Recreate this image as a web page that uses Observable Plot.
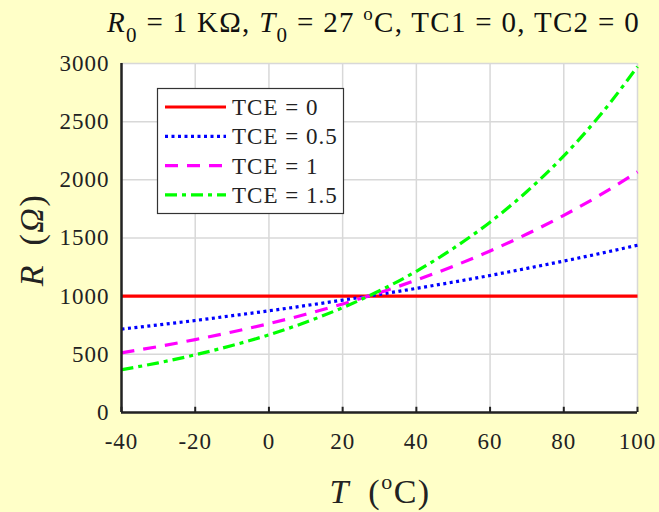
<!DOCTYPE html>
<html>
<head>
<meta charset="utf-8">
<script src="https://cdn.jsdelivr.net/npm/d3@7"></script>
<script src="https://cdn.jsdelivr.net/npm/@observablehq/plot@0.6"></script>
<style>
  html, body { margin: 0; padding: 0; background: #ffffc8; }
  #wrap { position: relative; width: 659px; height: 512px; overflow: hidden; background: #ffffc8; }
  #title { position: absolute; left: 107px; top: 6px; white-space: nowrap; letter-spacing: 1.3px;
           font-family: "Liberation Serif", serif; font-size: 29px; color: #111; z-index: 2; }
  #title sub { font-size: 21px; vertical-align: -10px; line-height: 0; }
  #title sup { font-size: 19px; vertical-align: 12px; line-height: 0; }
  svg { position: absolute; left: 0; top: 0; }
</style>
</head>
<body>
<div id="wrap">
  <div id="title"><i>R</i><sub>0</sub> = 1 KΩ, <i>T</i><sub>0</sub> = 27 <sup>o</sup>C, TC1 = 0, TC2 = 0</div>
</div>
<script>
// Temperature (°C)
const temps = [-40, -30, -20, -10, 0, 10, 20, 30, 40, 50, 60, 70, 80, 90, 100];
// Resistance (Ω) for each TCE value
const tce0   = [1000, 1000, 1000, 1000, 1000, 1000, 1000, 1000, 1000, 1000, 1000, 1000, 1000, 1000, 1000];
const tce05  = [717, 753, 791, 832, 874, 919, 966, 1015, 1067, 1121, 1178, 1239, 1302, 1368, 1438];
const tce1   = [513, 567, 627, 692, 764, 844, 933, 1030, 1138, 1257, 1389, 1534, 1695, 1872, 2068];
const tce15  = [368, 427, 496, 576, 668, 776, 901, 1046, 1214, 1410, 1636, 1900, 2206, 2561, 2973];
const seriesNames = ["TCE = 0", "TCE = 0.5", "TCE = 1", "TCE = 1.5"];
const xTicks = [-40, -20, 0, 20, 40, 60, 80, 100];
const yTicks = [0, 500, 1000, 1500, 2000, 2500, 3000];

const colors = ["#ff0000", "#0000ff", "#ff00ff", "#00ff00"];
const dashes = [null, "3,3.5", "13,9", "12,5,4,5"];

const allSeries = [tce0, tce05, tce1, tce15];
const data = [];
allSeries.forEach((vals, s) => temps.forEach((t, i) => data.push({T: t, R: vals[i], s: seriesNames[s]})));

const lineMarks = seriesNames.map((name, s) =>
  Plot.line(data.filter(d => d.s === name), {
    x: "T", y: "R", stroke: colors[s], strokeWidth: 3.2,
    strokeDasharray: dashes[s], curve: "monotone-x", strokeLinecap: "butt"
  })
);

const chart = Plot.plot({
  width: 659, height: 512,
  marginLeft: 121, marginRight: 22, marginTop: 63, marginBottom: 100,
  style: { background: "transparent", fontFamily: "Liberation Serif, serif", color: "#222", letterSpacing: "1px" },
  x: { domain: [-40, 100] },
  y: { domain: [0, 3000] },
  marks: [
    Plot.frame({ fill: "white", stroke: null }),
    Plot.gridX(xTicks, { stroke: "#d8d8d8", strokeOpacity: 1, strokeWidth: 1.5 }),
    Plot.gridY(yTicks, { stroke: "#d8d8d8", strokeOpacity: 1, strokeWidth: 1.5 }),
    Plot.axisX(xTicks, { tickSize: 0, tickPadding: 20, fontSize: 23, label: null, tickFormat: d => String(d) }),
    Plot.axisY(yTicks, { tickSize: 0, tickPadding: 12, fontSize: 23, label: null, tickFormat: d => String(d) }),
    Plot.ruleX(xTicks, { y1: 0, y2: 45, stroke: "#222", strokeWidth: 2 }),
    ...lineMarks,
    Plot.ruleY([0], { stroke: "#222", strokeWidth: 2.5 }),
    Plot.ruleX([-40], { stroke: "#222", strokeWidth: 2.5 })
  ]
});

document.getElementById("wrap").appendChild(chart);

const svg = d3.select(chart);
const serif = "Liberation Serif, serif";

// Axis labels
const xl = svg.append("text").attr("x", 380).attr("y", 503).attr("text-anchor", "middle")
  .attr("font-family", serif).attr("font-size", 34).attr("letter-spacing", "1.5px").attr("fill", "#222");
xl.append("tspan").attr("font-style", "italic").text("T");
xl.append("tspan").text("\u2002(");
xl.append("tspan").attr("font-size", 22).attr("dy", -14).text("o");
xl.append("tspan").attr("dy", 14).text("C)");

const yl = svg.append("text").attr("transform", "translate(43,240) rotate(-90)").attr("text-anchor", "middle")
  .attr("font-family", serif).attr("font-size", 34).attr("letter-spacing", "1.5px").attr("fill", "#222");
yl.append("tspan").attr("font-style", "italic").text("R");
yl.append("tspan").text("\u2002(");
yl.append("tspan").attr("font-style", "italic").text("Ω");
yl.append("tspan").text(")");

// Legend
const lg = svg.append("g").attr("text-anchor", "start");
lg.append("rect").attr("x", 157.5).attr("y", 88.5).attr("width", 186).attr("height", 125)
  .attr("fill", "white").attr("stroke", "#333").attr("stroke-width", 1.2);
seriesNames.forEach((name, i) => {
  const y = 107 + i * 29.3;
  lg.append("line").attr("x1", 165).attr("x2", 226).attr("y1", y).attr("y2", y)
    .attr("stroke", colors[i]).attr("stroke-width", 3.2)
    .attr("stroke-dasharray", dashes[i]);
  lg.append("text").attr("x", 232).attr("y", y + 8).attr("text-anchor", "start").attr("font-family", serif)
    .attr("font-size", 23).attr("letter-spacing", "1px").attr("fill", "#222").text(name);
});
</script>
</body>
</html>
